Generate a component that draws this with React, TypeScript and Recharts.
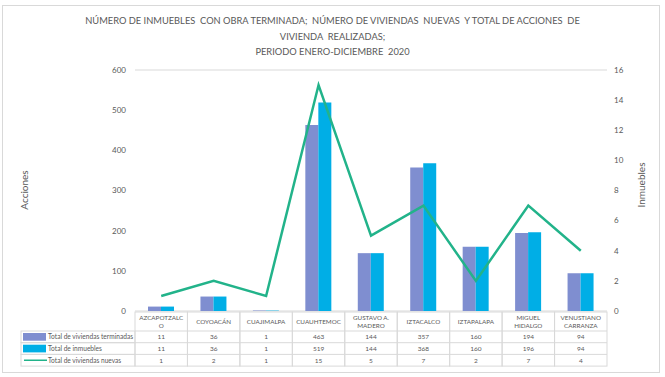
import React from 'react';
import { ComposedChart, Bar, Line, XAxis, YAxis, CartesianGrid } from 'recharts';

const categories = [
  'AZCAPOTZALCO',
  'COYOACÁN',
  'CUAJIMALPA',
  'CUAUHTEMOC',
  'GUSTAVO A. MADERO',
  'IZTACALCO',
  'IZTAPALAPA',
  'MIGUEL HIDALGO',
  'VENUSTIANO CARRANZA',
];
const viviendasTerminadas = [11, 36, 1, 463, 144, 357, 160, 194, 94];
const inmuebles = [11, 36, 1, 519, 144, 368, 160, 196, 94];
const viviendasNuevas = [1, 2, 1, 15, 5, 7, 2, 7, 4];
const leftTicks = [0, 100, 200, 300, 400, 500, 600];
const rightTicks = [0, 2, 4, 6, 8, 10, 12, 14, 16];

const seriesNames = ['Total de viviendas terminadas', 'Total de inmuebles', 'Total de viviendas nuevas'];

const PURPLE = '#7f8ed0';
const CYAN = '#00aee6';
const GREEN = '#22b38a';
const GRID = '#d9d9d9';
const TEXT = '#595959';
const FONT = 'Lato, "Open Sans", sans-serif';

const data = categories.map((name, i) => ({
  name,
  terminadas: viviendasTerminadas[i],
  inmuebles: inmuebles[i],
  nuevas: viviendasNuevas[i],
}));

const PLOT_LEFT = 135;
const PLOT_RIGHT = 607;
const COL_W = (PLOT_RIGHT - PLOT_LEFT) / categories.length;
const HEAD_H = 19;
const ROW_H = 11.7;

const wrapName = (s: string): string[] => {
  if (s.includes(' ')) {
    const k = s.lastIndexOf(' ');
    return [s.slice(0, k), s.slice(k + 1)];
  }
  if (s.length > 11) return [s.slice(0, 11), s.slice(11)];
  return [s];
};

// each x tick draws its column of the data table
const TableTick = (props: any) => {
  const { x, y, payload, index } = props;
  const left = x - COL_W / 2;
  const lines = wrapName(payload.value);
  const rows = [viviendasTerminadas[index], inmuebles[index], viviendasNuevas[index]];
  const top = y + 1;
  const bottom = top + HEAD_H + ROW_H * 3;
  return (
    <g fontFamily={FONT}>
      <rect x={left} y={top} width={COL_W} height={bottom - top} fill="none" stroke={GRID} strokeWidth={1} />
      {rows.map((_, r) => (
        <line key={r} x1={left} x2={left + COL_W} y1={top + HEAD_H + ROW_H * r} y2={top + HEAD_H + ROW_H * r} stroke={GRID} />
      ))}
      {lines.map((l, k) => (
        <text
          key={k}
          x={x}
          y={top + HEAD_H / 2 + (k - (lines.length - 1) / 2) * 8 + 2.3}
          textAnchor="middle"
          fontSize={6.3}
          fill={TEXT}
        >
          {l}
        </text>
      ))}
      {rows.map((v, r) => (
        <text key={r} x={x} y={top + HEAD_H + ROW_H * r + ROW_H / 2 + 2.3} textAnchor="middle" fontSize={6.5} fill={TEXT}>
          {v}
        </text>
      ))}
      {index === 0 && (
        <g>
          {seriesNames.map((s, r) => {
            const ry = top + HEAD_H + ROW_H * r;
            return (
              <g key={s}>
                <rect x={21} y={ry} width={left - 21} height={ROW_H} fill="none" stroke={GRID} />
                {r < 2 ? (
                  <rect x={23} y={ry + 2} width={23} height={ROW_H - 4} fill={r === 0 ? PURPLE : CYAN} />
                ) : (
                  <line x1={24} x2={47} y1={ry + ROW_H / 2} y2={ry + ROW_H / 2} stroke={GREEN} strokeWidth={1.5} />
                )}
                <text x={48} y={ry + ROW_H / 2 + 2.3} fontSize={6.6} fill={TEXT}>
                  {s}
                </text>
              </g>
            );
          })}
        </g>
      )}
    </g>
  );
};

const App: React.FC = () => {
  return (
    <div style={{ position: 'absolute', left: 0, top: 0, width: 665, height: 377, background: '#fff', fontFamily: FONT }}>
      <div
        style={{
          position: 'absolute',
          left: 2,
          top: 5,
          width: 656,
          height: 366,
          border: `1px solid ${GRID}`,
        }}
      />
      <div
        style={{
          position: 'absolute',
          top: 13,
          left: 0,
          width: 665,
          textAlign: 'center',
          fontSize: 9.3,
          lineHeight: '15.5px',
          color: TEXT,
          whiteSpace: 'pre',
        }}
      >
        {'NÚMERO DE INMUEBLES  CON OBRA TERMINADA;  NÚMERO DE VIVIENDAS  NUEVAS  Y TOTAL DE ACCIONES  DE\nVIVIENDA  REALIZADAS;\nPERIODO ENERO-DICIEMBRE  2020'}
      </div>
      <div
        style={{
          position: 'absolute',
          left: 24,
          top: 190,
          transform: 'translate(-50%, -50%) rotate(-90deg)',
          fontSize: 10,
          color: TEXT,
        }}
      >
        Acciones
      </div>
      <div
        style={{
          position: 'absolute',
          left: 641,
          top: 185,
          transform: 'translate(-50%, -50%) rotate(-90deg)',
          fontSize: 10,
          color: TEXT,
        }}
      >
        Inmuebles
      </div>
      <div style={{ position: 'absolute', left: 0, top: 0 }}>
        <ComposedChart
          width={665}
          height={377}
          data={data}
          margin={{ top: 70, right: 665 - PLOT_RIGHT - 35, bottom: 0, left: PLOT_LEFT - 35 }}
          barGap={0}
        >
          <CartesianGrid vertical={false} stroke={GRID} strokeWidth={1} />
          <XAxis
            dataKey="name"
            height={66}
            axisLine={false}
            tickLine={false}
            tickSize={0}
            tickMargin={0}
            interval={0}
            tick={TableTick}
          />
          <YAxis
            yAxisId="left"
            width={35}
            domain={[0, 600]}
            ticks={leftTicks}
            axisLine={false}
            tickLine={false}
            tickSize={0}
            tickMargin={9}
            tick={{ fontSize: 8, fill: TEXT, fontFamily: FONT }}
          />
          <YAxis
            yAxisId="right"
            orientation="right"
            width={35}
            domain={[0, 16]}
            ticks={rightTicks}
            axisLine={false}
            tickLine={false}
            tickSize={0}
            tickMargin={7}
            tick={{ fontSize: 8, fill: TEXT, fontFamily: FONT }}
          />
          <Bar yAxisId="left" dataKey="terminadas" name={seriesNames[0]} fill={PURPLE} barSize={13} isAnimationActive={false} />
          <Bar yAxisId="left" dataKey="inmuebles" name={seriesNames[1]} fill={CYAN} barSize={13} isAnimationActive={false} />
          <Line
            yAxisId="right"
            type="linear"
            dataKey="nuevas"
            name={seriesNames[2]}
            stroke={GREEN}
            strokeWidth={2.5}
            dot={false}
            isAnimationActive={false}
          />
        </ComposedChart>
      </div>
    </div>
  );
};

export default App;
